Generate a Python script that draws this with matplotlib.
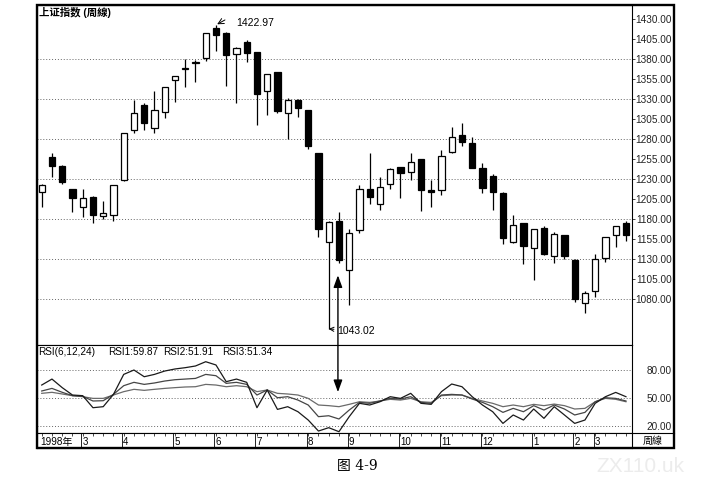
"""
Weekly candlestick chart of the Shanghai Composite with RSI panel (图 4-9).
"""

import numpy as np
import matplotlib
matplotlib.use("Agg")
import matplotlib.pyplot as plt
from matplotlib.patches import Rectangle
from matplotlib.lines import Line2D

plt.rcParams['font.family'] = ['Liberation Sans', 'Noto Sans CJK SC']

# weekly OHLC, 1998-02 .. 1999-03
opens = [1214.5, 1258.3, 1247.0, 1217.5, 1195.8, 1208.3, 1184.5, 1185.4, 1229.1, 1291.6,
         1322.9, 1293.8, 1314.5, 1354.1, 1368.0, 1375.5, 1381.3, 1418.8, 1413.3, 1386.6,
         1401.3, 1388.8, 1340.4, 1363.8, 1312.5, 1329.1, 1316.6, 1262.5, 1152.0, 1178.3,
         1116.6, 1166.6, 1217.5, 1198.8, 1223.8, 1245.0, 1239.1, 1255.0, 1216.6, 1216.6,
         1263.8, 1285.0, 1275.8, 1244.5, 1234.1, 1213.3, 1152.0, 1175.0, 1143.8, 1168.8,
         1134.1, 1160.4, 1129.1, 1075.8, 1090.4, 1131.3, 1160.4, 1175.0]
highs = [1224.0, 1262.5, 1248.0, 1218.0, 1217.9, 1209.0, 1202.9, 1223.0, 1288.0, 1329.1,
         1325.8, 1340.8, 1345.5, 1359.5, 1380.0, 1379.1, 1413.0, 1422.97, 1414.0, 1395.0,
         1404.1, 1389.5, 1362.0, 1364.5, 1331.3, 1330.0, 1317.0, 1263.0, 1177.5, 1188.8,
         1167.5, 1222.9, 1263.3, 1232.5, 1243.8, 1245.8, 1262.5, 1256.0, 1229.1, 1266.6,
         1295.0, 1300.0, 1282.5, 1250.8, 1236.6, 1214.0, 1185.4, 1176.0, 1168.0, 1172.0,
         1164.5, 1161.0, 1130.0, 1090.8, 1136.6, 1158.0, 1172.0, 1178.3]
lows = [1195.8, 1232.5, 1223.8, 1189.5, 1183.3, 1175.8, 1180.4, 1178.3, 1228.0, 1287.5,
        1291.6, 1287.5, 1306.3, 1327.0, 1345.0, 1352.0, 1377.9, 1390.8, 1346.6, 1325.0,
        1377.0, 1297.9, 1310.4, 1312.5, 1280.0, 1308.5, 1267.5, 1158.3, 1043.02, 1125.0,
        1072.9, 1162.5, 1199.1, 1191.6, 1217.5, 1206.3, 1229.1, 1190.4, 1195.0, 1210.4,
        1263.0, 1271.6, 1243.8, 1212.5, 1191.6, 1149.1, 1150.0, 1124.1, 1104.1, 1135.5,
        1125.8, 1130.0, 1077.0, 1063.3, 1083.3, 1127.0, 1145.8, 1153.3]
closes = [1222.9, 1247.0, 1227.0, 1207.0, 1206.3, 1185.4, 1187.5, 1222.9, 1287.5, 1312.5,
          1300.0, 1316.6, 1345.0, 1359.1, 1369.5, 1377.0, 1412.5, 1410.4, 1385.4, 1394.5,
          1387.5, 1336.3, 1361.6, 1315.4, 1329.1, 1319.1, 1271.6, 1167.9, 1177.0, 1129.1,
          1162.5, 1217.5, 1207.5, 1220.0, 1242.5, 1237.5, 1252.0, 1216.6, 1214.5, 1259.1,
          1282.5, 1276.3, 1244.5, 1218.8, 1214.1, 1156.3, 1172.9, 1147.0, 1167.5, 1136.3,
          1161.3, 1134.1, 1080.4, 1088.3, 1130.4, 1157.5, 1171.6, 1160.4]

# RSI(6,12,24)
rsi1 = [63.6, 70.0, 60.8, 52.9, 52.2, 39.3, 40.4, 53.6, 75.0, 79.7,
        72.5, 75.0, 78.6, 80.8, 82.2, 84.0, 88.6, 85.1, 67.2, 70.0,
        66.5, 39.3, 58.3, 37.5, 40.4, 35.0, 26.1, 14.3, 17.9, 13.6,
        29.7, 44.0, 42.2, 45.7, 51.1, 49.3, 54.7, 44.0, 42.9, 56.5,
        64.7, 61.8, 51.1, 42.2, 35.0, 22.5, 31.5, 26.1, 37.9, 27.9,
        40.4, 31.5, 22.5, 26.1, 44.0, 51.1, 55.7, 51.1]
rsi2 = [57.2, 60.0, 55.8, 52.2, 51.5, 46.5, 46.8, 53.6, 62.9, 66.5,
        64.3, 65.8, 67.9, 69.3, 70.0, 70.7, 75.0, 73.6, 65.4, 66.5,
        64.3, 52.9, 58.3, 50.0, 51.1, 47.5, 42.2, 29.7, 30.7, 27.2,
        36.8, 45.0, 44.0, 46.5, 49.3, 48.6, 51.1, 45.0, 44.0, 52.9,
        53.6, 52.9, 48.6, 45.0, 40.4, 34.3, 38.6, 35.0, 41.5, 36.8,
        42.2, 37.9, 31.5, 34.3, 45.7, 50.0, 49.3, 46.5]
rsi3 = [54.7, 55.8, 54.0, 52.2, 51.1, 49.3, 49.3, 52.9, 56.5, 59.0,
        57.9, 59.0, 60.0, 60.8, 61.5, 61.8, 64.3, 63.6, 61.8, 62.9,
        61.8, 56.5, 58.3, 54.7, 54.0, 52.9, 49.3, 42.2, 41.5, 40.4,
        42.9, 45.7, 45.0, 46.5, 48.3, 47.5, 49.3, 45.7, 45.0, 52.2,
        52.9, 52.9, 49.3, 46.5, 44.0, 40.4, 42.2, 40.4, 42.9, 41.5,
        43.2, 41.5, 37.9, 38.6, 45.7, 49.3, 48.3, 45.7]

price_ticks = [1080.0, 1105.0, 1130.0, 1155.0, 1180.0, 1205.0, 1230.0, 1255.0,
               1280.0, 1305.0, 1330.0, 1355.0, 1380.0, 1405.0, 1430.0]
price_grid = [1080.0, 1130.0, 1180.0, 1230.0, 1280.0, 1330.0, 1380.0]
rsi_ticks = [20.0, 50.0, 80.0]

# first week of each month (candle index)
month_idx = [4, 8, 13, 17, 21, 26, 30, 35, 39, 43, 48, 52, 54]
month_labels = ['3', '4', '5', '6', '7', '8', '9', '10', '11', '12', '1', '2', '3']

W, H = 713, 487


def px_box(left, top, right, bottom):
    """pixel box -> figure fraction rect"""
    return [left / W, 1 - bottom / H, (right - left) / W, (bottom - top) / H]


def dotted(ax, y):
    ax.axhline(y, color='#666666', lw=0.7, ls=(0, (1, 2)), zorder=1)


fig = plt.figure(figsize=(W / 100, H / 100), dpi=100)
fig.patch.set_facecolor('white')

x = np.arange(len(opens))
xlim = (-0.46, 57.59)

# ---- price panel
ax = fig.add_axes(px_box(37, 5, 632, 345))
ax.set_xlim(*xlim)
ax.set_ylim(1022.9, 1447.9)
for g in price_grid:
    dotted(ax, g)

o = np.array(opens)
c = np.array(closes)
up = c >= o
ax.vlines(x, lows, highs, color='black', lw=0.9, zorder=2)
ax.bar(x[up], (c - o)[up], bottom=o[up], width=0.62, color='white',
       edgecolor='black', linewidth=0.9, zorder=3)
ax.bar(x[~up], (o - c)[~up], bottom=c[~up], width=0.62, color='black',
       edgecolor='black', linewidth=0.9, zorder=3)

ax.set_xticks([])
ax.yaxis.tick_right()
ax.set_yticks(price_ticks, ['%.2f' % v for v in price_ticks])
ax.tick_params(axis='y', direction='out', length=2.5, width=0.6, pad=26.3,
               labelsize=7.2, colors='#222222')
for lab in ax.get_yticklabels():
    lab.set_horizontalalignment('right')
for s in ax.spines.values():
    s.set_linewidth(0.8)

ax.text(0.004, 0.978, '上证指数 (周線)', transform=ax.transAxes, fontsize=7.5,
        va='center', ha='left', fontweight='bold')

# high / low markers
hi_i = int(np.argmax(highs))
lo_i = int(np.argmin(lows))
ax.annotate('', xy=(hi_i, highs[hi_i]), xytext=(9, 5), textcoords='offset pixels',
            arrowprops=dict(arrowstyle='->', lw=0.7, color='black',
                            shrinkA=0, shrinkB=1))
ax.annotate('%.2f' % highs[hi_i], xy=(hi_i, highs[hi_i]), xytext=(20, 2),
            textcoords='offset pixels', fontsize=7.5, va='center', ha='left')
ax.annotate('%.2f' % lows[lo_i], xy=(lo_i, lows[lo_i]), xytext=(8, -2),
            textcoords='offset pixels', fontsize=7.5, va='center', ha='left',
            arrowprops=dict(arrowstyle='->', lw=0.7, color='black',
                            shrinkA=0, shrinkB=0))

# ---- RSI panel
ax2 = fig.add_axes(px_box(37, 345, 632, 433))
ax2.set_xlim(*xlim)
ax2.set_ylim(12.2, 106.5)
for g in rsi_ticks:
    dotted(ax2, g)
ax2.plot(x, rsi3, color='#6a6a6a', lw=0.9, zorder=3)
ax2.plot(x, rsi2, color='#454545', lw=0.9, zorder=3)
ax2.plot(x, rsi1, color='#1a1a1a', lw=0.9, zorder=3)
ax2.set_xticks([])
ax2.yaxis.tick_right()
ax2.set_yticks(rsi_ticks, ['%.2f' % v for v in rsi_ticks])
ax2.tick_params(axis='y', length=0, pad=28.8, labelsize=7.2, colors='#222222')
for lab in ax2.get_yticklabels():
    lab.set_horizontalalignment('right')
for s in ax2.spines.values():
    s.set_linewidth(0.8)

hdr = [('RSI(6,12,24)', 0.0), ('RSI1:59.87', 0.1176), ('RSI2:51.91', 0.2101),
       ('RSI3:51.34', 0.3092)]
for txt, fx in hdr:
    ax2.text(fx + 0.002, 0.915, txt, transform=ax2.transAxes, fontsize=7.2,
             va='center', ha='left')

# arrow linking the 1043 low to the RSI trough
ax2.annotate('', xy=(28.9, 56.0), xycoords='data',
             xytext=(28.9, 1110.0), textcoords=ax.transData,
             arrowprops=dict(arrowstyle='<|-|>,head_length=0.6,head_width=0.22',
                             mutation_scale=12, lw=1.0, color='black',
                             shrinkA=0, shrinkB=0))

# ---- date row
ax3 = fig.add_axes(px_box(37, 433, 632, 448))
ax3.set_xlim(*xlim)
ax3.set_ylim(0, 1)
ax3.set_yticks([])
ax3.xaxis.set_ticks_position('top')
ax3.set_xticks(x, [''] * len(x))
ax3.tick_params(axis='x', direction='in', length=2, width=0.5)
for s in ax3.spines.values():
    s.set_linewidth(0.8)
for mi, ml in zip(month_idx, month_labels):
    ax3.axvline(mi - 0.15, color='black', lw=0.6)
    ax3.text(mi - 0.05, 0.42, ml, fontsize=7, va='center', ha='left')
ax3.text(0.006, 0.42, '1998年', transform=ax3.transAxes, fontsize=7.2,
         va='center', ha='left')

# right column footer and outer frame
fig.add_artist(Line2D([632 / W, 674 / W], [1 - 433 / H, 1 - 433 / H],
                      color='black', lw=0.8))
fig.text(653 / W, 1 - 440.5 / H, '周線', fontsize=7.2, ha='center', va='center')
fig.add_artist(Rectangle((37 / W, 1 - 448 / H), 637 / W, 443 / H, fill=False,
                         edgecolor='black', lw=1.7))

fig.text(357 / W, 1 - 466 / H, '图 4-9', fontsize=10, ha='center', va='center',
         family=['DejaVu Serif', 'Noto Sans CJK SC'])
fig.text(640 / W, 1 - 466 / H, 'ZX110.uk', fontsize=15, ha='center', va='center',
         color='#ececec')

fig.savefig('out.png', dpi=100)
